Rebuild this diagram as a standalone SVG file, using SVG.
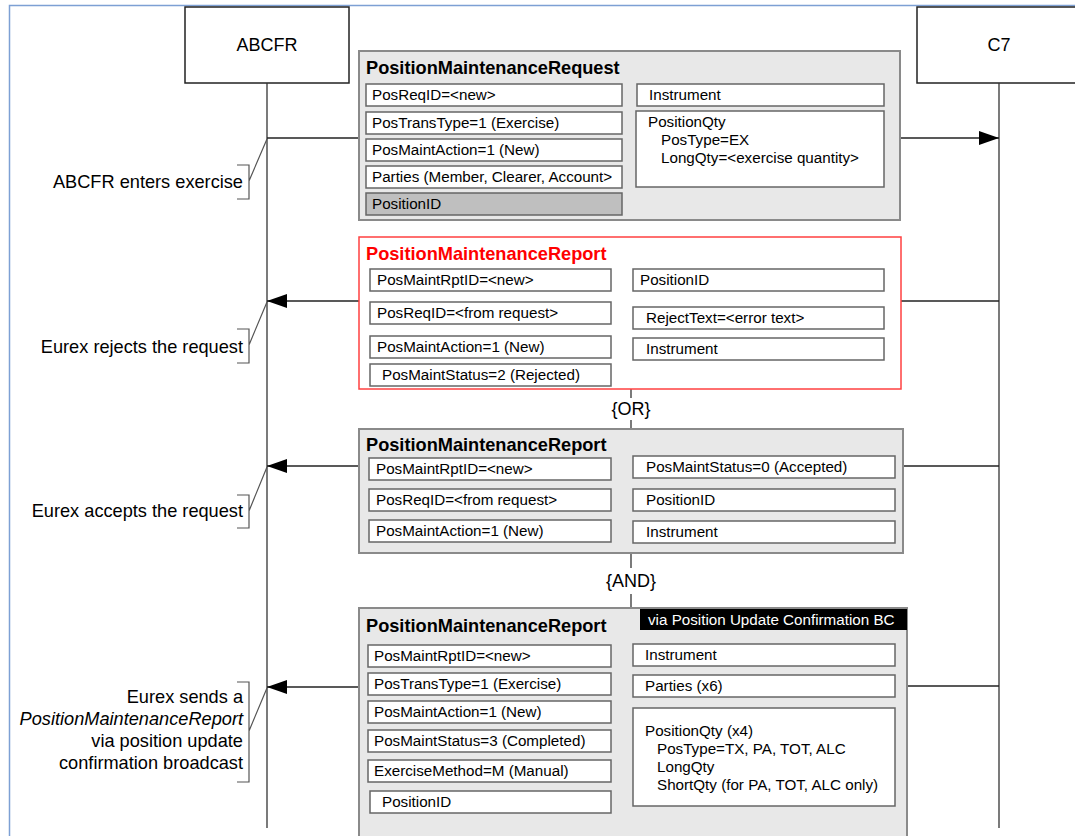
<svg xmlns="http://www.w3.org/2000/svg" width="1075" height="836" viewBox="0 0 1075 836">
<style>
text{font-family:"Liberation Sans",Arial,sans-serif;fill:#000}
.f{font-size:15.2px}
.lbl{font-size:18.2px;text-anchor:end}
.ttl{font-size:18.2px;font-weight:bold}
.hdr{font-size:18px;text-anchor:middle}
.box{fill:#e8e8e8;stroke:#8a8a8a;stroke-width:2}
.fld{fill:#fff;stroke:#666;stroke-width:1.5}
.life{stroke:#333;stroke-width:1.3;fill:none}
.msg{stroke:#222;stroke-width:1.5;fill:none}
.br{stroke:#555;stroke-width:1.2;fill:none}
</style>
<defs>
<marker id="ah" markerWidth="20" markerHeight="14" refX="20" refY="7" orient="auto" markerUnits="userSpaceOnUse">
<path d="M0,0 L20,7 L0,14 Z" fill="#000"/>
</marker>
</defs>
<rect width="1075" height="836" fill="#fff"/>
<path d="M9.5,836 V5.5 H1075" fill="none" stroke="#7da0d4" stroke-width="1.5"/>

<g id="abcfr">
<rect x="185" y="7" width="164" height="76" fill="#fff" stroke="#222" stroke-width="1.5"/>
<text class="hdr" x="267" y="51">ABCFR</text>
</g>
<g id="c7">
<rect x="917" y="7" width="165" height="76" fill="#fff" stroke="#222" stroke-width="1.5"/>
<text class="hdr" x="999" y="51">C7</text>
</g>

<g id="connectors">
<line class="life" x1="267" y1="83" x2="267" y2="828"/>
<line class="life" x1="999" y1="83" x2="999" y2="828"/>
<line class="msg" x1="267" y1="138" x2="359" y2="138"/>
<line class="msg" x1="900" y1="138" x2="999" y2="138" marker-end="url(#ah)"/>
<line class="msg" x1="999" y1="301" x2="901" y2="301"/>
<line class="msg" x1="359" y1="301" x2="267" y2="301" marker-end="url(#ah)"/>
<line class="msg" x1="999" y1="466" x2="903" y2="466"/>
<line class="msg" x1="359" y1="466" x2="267" y2="466" marker-end="url(#ah)"/>
<line class="msg" x1="999" y1="686" x2="907" y2="686"/>
<line class="msg" x1="359" y1="687" x2="267" y2="687" marker-end="url(#ah)"/>
<line class="life" x1="631" y1="389" x2="631" y2="398"/>
<line class="life" x1="631" y1="420" x2="631" y2="429"/>
<line class="life" x1="631" y1="553" x2="631" y2="568"/>
<line class="life" x1="631" y1="594" x2="631" y2="607"/>
</g>

<g id="note-enter">
<path class="br" d="M237,165 H249 V199 H237 M249,181 L267,139"/>
<text class="lbl" x="243" y="188">ABCFR enters exercise</text>
</g>
<g id="note-reject">
<path class="br" d="M237,329 H249 V363 H237 M249,345 L267,302"/>
<text class="lbl" x="243" y="353">Eurex rejects the request</text>
</g>
<g id="note-accept">
<path class="br" d="M237,495 H249 V528 H237 M249,511 L267,467"/>
<text class="lbl" x="243" y="517">Eurex accepts the request</text>
</g>
<g id="note-sends">
<path class="br" d="M237,682 H249 V782 H237 M249,731 L267,688"/>
<text class="lbl" x="243" y="703">Eurex sends a</text>
<text class="lbl" x="243" y="725" font-style="italic">PositionMaintenanceReport</text>
<text class="lbl" x="243" y="747">via position update</text>
<text class="lbl" x="243" y="769">confirmation broadcast</text>
</g>

<g id="or"><text class="hdr" x="631" y="415" font-size="17">{OR}</text></g>
<g id="and"><text class="hdr" x="631" y="587" font-size="17">{AND}</text></g>

<g id="request">
<rect class="box" x="359" y="51" width="541" height="169"/>
<text class="ttl" x="366" y="74">PositionMaintenanceRequest</text>
<rect class="fld" x="366" y="84" width="256" height="22"/>
<text class="f" x="372" y="100">PosReqID=&lt;new&gt;</text>
<rect class="fld" x="366" y="112" width="256" height="22"/>
<text class="f" x="372" y="128">PosTransType=1 (Exercise)</text>
<rect class="fld" x="366" y="139" width="256" height="22"/>
<text class="f" x="372" y="155">PosMaintAction=1 (New)</text>
<rect class="fld" x="366" y="166" width="256" height="22"/>
<text class="f" x="372" y="182">Parties (Member, Clearer, Account&gt;</text>
<rect x="366" y="193" width="256" height="22" fill="#bfbfbf" stroke="#666" stroke-width="1.5"/>
<text class="f" x="372" y="209">PositionID</text>
<rect class="fld" x="637" y="84" width="247" height="22"/>
<text class="f" x="649" y="100">Instrument</text>
<rect class="fld" x="636" y="111" width="248" height="76"/>
<text class="f" x="648" y="127">PositionQty</text>
<text class="f" x="661" y="145">PosType=EX</text>
<text class="f" x="661" y="163">LongQty=&lt;exercise quantity&gt;</text>
</g>

<g id="reject">
<rect x="359" y="237" width="542" height="152" fill="#fff" stroke="#ff4040" stroke-width="1.5"/>
<text class="ttl" x="366" y="260" style="fill:#ff0000">PositionMaintenanceReport</text>
<rect class="fld" x="370" y="269" width="241" height="22"/>
<text class="f" x="377" y="285">PosMaintRptID=&lt;new&gt;</text>
<rect class="fld" x="370" y="302" width="241" height="22"/>
<text class="f" x="377" y="318">PosReqID=&lt;from request&gt;</text>
<rect class="fld" x="370" y="336" width="241" height="22"/>
<text class="f" x="377" y="352">PosMaintAction=1 (New)</text>
<rect class="fld" x="370" y="364" width="241" height="22"/>
<text class="f" x="382" y="380">PosMaintStatus=2 (Rejected)</text>
<rect class="fld" x="633" y="269" width="251" height="22"/>
<text class="f" x="640" y="285">PositionID</text>
<rect class="fld" x="633" y="307" width="251" height="22"/>
<text class="f" x="646" y="323">RejectText=&lt;error text&gt;</text>
<rect class="fld" x="633" y="338" width="251" height="22"/>
<text class="f" x="646" y="354">Instrument</text>
</g>

<g id="accept">
<rect class="box" x="359" y="429" width="544" height="124"/>
<text class="ttl" x="366" y="451">PositionMaintenanceReport</text>
<rect class="fld" x="369" y="458" width="242" height="22"/>
<text class="f" x="376" y="474">PosMaintRptID=&lt;new&gt;</text>
<rect class="fld" x="369" y="489" width="242" height="22"/>
<text class="f" x="376" y="505">PosReqID=&lt;from request&gt;</text>
<rect class="fld" x="369" y="520" width="242" height="22"/>
<text class="f" x="376" y="536">PosMaintAction=1 (New)</text>
<rect class="fld" x="633" y="456" width="262" height="22"/>
<text class="f" x="646" y="472">PosMaintStatus=0 (Accepted)</text>
<rect class="fld" x="633" y="489" width="262" height="22"/>
<text class="f" x="646" y="505">PositionID</text>
<rect class="fld" x="633" y="521" width="262" height="22"/>
<text class="f" x="646" y="537">Instrument</text>
</g>

<g id="broadcast">
<rect class="box" x="359" y="608" width="548" height="240"/>
<rect x="640" y="609" width="267" height="21" fill="#000"/>
<text class="f" x="648" y="625" style="fill:#fff">via Position Update Confirmation BC</text>
<text class="ttl" x="366" y="632">PositionMaintenanceReport</text>
<rect class="fld" x="368" y="645" width="243" height="22"/>
<text class="f" x="374" y="661">PosMaintRptID=&lt;new&gt;</text>
<rect class="fld" x="368" y="673" width="243" height="22"/>
<text class="f" x="374" y="689">PosTransType=1 (Exercise)</text>
<rect class="fld" x="368" y="701" width="243" height="22"/>
<text class="f" x="374" y="717">PosMaintAction=1 (New)</text>
<rect class="fld" x="368" y="730" width="243" height="22"/>
<text class="f" x="374" y="746">PosMaintStatus=3 (Completed)</text>
<rect class="fld" x="368" y="760" width="243" height="22"/>
<text class="f" x="374" y="776">ExerciseMethod=M (Manual)</text>
<rect class="fld" x="370" y="791" width="241" height="22"/>
<text class="f" x="382" y="807">PositionID</text>
<rect class="fld" x="633" y="644" width="262" height="22"/>
<text class="f" x="645" y="660">Instrument</text>
<rect class="fld" x="633" y="675" width="262" height="22"/>
<text class="f" x="645" y="691">Parties (x6)</text>
<rect class="fld" x="633" y="708" width="262" height="98"/>
<text class="f" x="645" y="736">PositionQty (x4)</text>
<text class="f" x="657" y="754">PosType=TX, PA, TOT, ALC</text>
<text class="f" x="657" y="772">LongQty</text>
<text class="f" x="657" y="790">ShortQty (for PA, TOT, ALC only)</text>
</g>
</svg>
